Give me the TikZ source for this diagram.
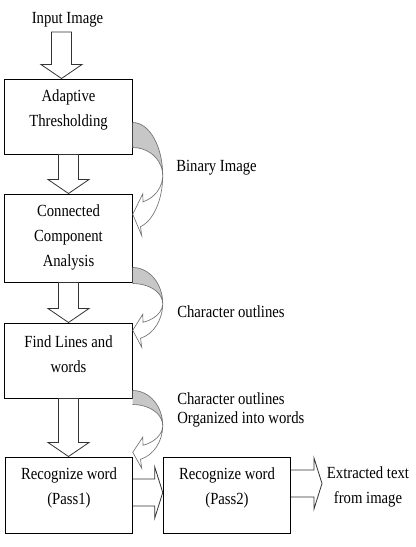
\documentclass[tikz,border=0pt]{standalone}
\usepackage{fontspec}
\setmainfont{Liberation Serif}[FakeStretch=0.865]
\usetikzlibrary{calc}

% hollow block arrow pointing down, from #1 to the level of #2
\newcommand{\blockdown}[2]{%
  \path (#1) coordinate (bt);
  \path (bt |- #2) coordinate (bh);
  \draw[blockarrow] ($(bt)+(-10,0)$) -- ($(bh)+(-10,-14)$) -- ($(bh)+(-20.5,-14)$) -- (bh)
    -- ($(bh)+(20.5,-14)$) -- ($(bh)+(10,-14)$) -- ($(bt)+(10,0)$) -- cycle ;}

% hollow block arrow pointing right, from #1 to the column of #2
\newcommand{\blockright}[2]{%
  \path (#1) coordinate (bt);
  \path (#2 |- bt) coordinate (bh);
  \draw[blockarrow] ($(bt)+(0,-13.5)$) -- ($(bh)+(-8,-13.5)$) -- ($(bh)+(-8,-25.5)$) -- (bh)
    -- ($(bh)+(-8,25.5)$) -- ($(bh)+(-8,13.5)$) -- ($(bt)+(0,13.5)$) ;}

% curved arrow on the right of a box: centre #1, outer radius #2, inner radius #3
\newcommand{\bendarrow}[3]{%
  \path (#1) coordinate (bc);
  \fill[bendback] ($(bc)+(0,-#2)$) arc[start angle=-90,end angle=0,x radius=30,y radius=#2]
    arc[start angle=0,end angle=-90,x radius=30,y radius=#3] -- cycle ;
  \draw[bendline] ($(bc)+(0,-#2)$) arc[start angle=-90,end angle=75,x radius=30,y radius=#2]
    -- ($(bc)+(9,{#2*sin(75)+9})$) -- ($(bc)+(0,{(#2*sin(75)+#3*sin(70))/2})$)
    -- ($(bc)+(10,{#3*sin(70)-8})$) -- ($(bc)+({30*cos(70)},{#3*sin(70)})$)
    arc[start angle=70,end angle=-90,x radius=30,y radius=#3] ;}

\begin{document}
\begin{tikzpicture}[x=0.75pt,y=0.75pt,yscale=-1,xscale=1,
  box/.style={draw, line width=0.75pt, inner sep=0pt, minimum width=95.6pt},
  boxtext/.style={align=center, inner sep=0pt, anchor=north, font=\fontsize{12.75pt}{18.75pt}\selectfont},
  lbl/.style={inner sep=0pt, font=\fontsize{12.75pt}{18.75pt}\selectfont},
  blockarrow/.style={draw=black!80, line width=0.6pt, fill=white},
  bendline/.style={draw=black!55, line width=0.5pt},
  bendback/.style={fill=black!22}]
%uncomment if require: \path (0,547); %set diagram left start at 0, and has height of 547
\useasboundingbox (0,0) rectangle (415,547);

%Shape: Rectangle [id:adapt]
\node[box, minimum height=56.25pt] (adapt) at (68.5,116.5) {};
%Shape: Rectangle [id:connect]
\node[box, minimum height=66pt] (connect) at (68.5,238) {};
%Shape: Rectangle [id:findlines]
\node[box, minimum height=56.25pt] (findlines) at (68.5,360.5) {};
%Shape: Rectangle [id:pass1]
\node[box, minimum height=57pt] (pass1) at (69,495) {};
%Shape: Rectangle [id:pass2]
\node[box, minimum height=57pt] (pass2) at (227,495) {};

% Text Node
\node[boxtext] (adapttext) at ($(adapt.north)+(0,11.4)$) {Adaptive\\Thresholding};
% Text Node
\node[boxtext] (connecttext) at ($(connect.north)+(0,11.4)$) {Connected\\Component\\Analysis};
% Text Node
\node[boxtext] (findlinestext) at ($(findlines.north)+(0,13.4)$) {Find Lines and\\words};
% Text Node
\node[boxtext] (pass1text) at ($(pass1.north)+(0,11.4)$) {Recognize word\\(Pass1)};
% Text Node
\node[boxtext] (pass2text) at ($(pass2.north)+(0,11.4)$) {Recognize word\\(Pass2)};

%Block Arrows
\coordinate (inputtail) at (61.5,32);
\blockdown{inputtail}{adapt.north}
\blockdown{adapt.south}{connect.north}
\blockdown{connect.south}{findlines.north}
\blockdown{findlines.south}{pass1.north}
\blockright{$(pass1.east)+(0,-2.5)$}{pass2.west}
\coordinate (outtip) at (322,483.5);
\blockright{pass2.east |- outtip}{outtip}

%Curved Arrows
\bendarrow{$(adapt.south east)+(0,21)$}{53}{28}
\bendarrow{$(connect.south east)+(0,21)$}{36}{20}
\bendarrow{$(findlines.south east)+(0,27)$}{35}{21}

% Text Node
\node[lbl, anchor=base] (inputtext) at (67.5,23) {Input Image};
% Text Node
\node[lbl, anchor=base west] (binarytext) at (176,171) {Binary Image};
% Text Node
\node[lbl, anchor=base west] (outlinetext) at (177,317) {Character outlines};
% Text Node
\node[lbl, anchor=north west, align=left, font=\fontsize{12.75pt}{14.6pt}\selectfont] (wordstext) at (177,392.4) {Character outlines\\Organized into words};
% Text Node
\node[lbl, anchor=north, align=center] (extracttext) at (368,466.4) {Extracted text\\from image};

\end{tikzpicture}
\end{document}
